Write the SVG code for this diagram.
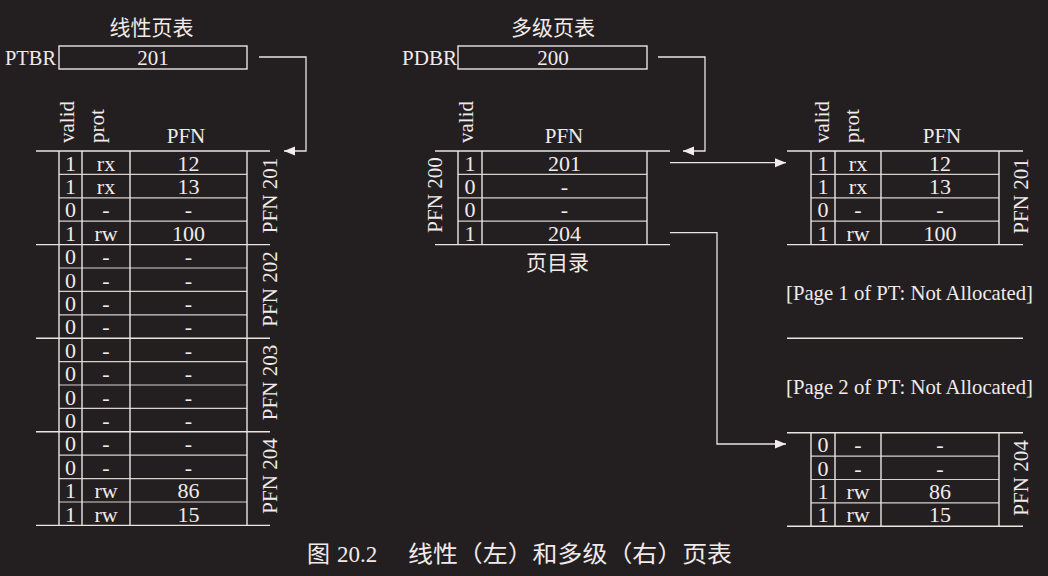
<svg xmlns="http://www.w3.org/2000/svg" width="1048" height="576" viewBox="0 0 1048 576">
  <style>
    .ln { stroke: #ece3e3; stroke-width: 1.4; fill: none; }
    .in { stroke: #d9d0d0; stroke-width: 1.2; fill: none; }
    .t { font-family: "Liberation Serif", "Times New Roman", serif; font-size: 21px; fill: #f2eaea; }
    .cell { font-family: "Liberation Serif", "Times New Roman", serif; font-size: 22px; fill: #f2eaea; text-anchor: middle; }
    .c { text-anchor: middle; }
    .cjk { font-family: "Noto Sans CJK SC", "Noto Sans", sans-serif; font-size: 21px; fill: #f2eaea; }
    .cn { stroke: #ece3e3; stroke-width: 1.3; fill: none; marker-end: url(#ah); }
  </style>
  <defs>
    <marker id="ah" markerUnits="userSpaceOnUse" markerWidth="12" markerHeight="10" refX="11" refY="4.5" orient="auto">
      <path d="M0,0 L11,4.5 L0,9 Z" fill="#f4ecec"/>
    </marker>
  </defs>
  <rect x="0" y="0" width="1048" height="576" fill="#231f20"/>

  <!-- Linear page table -->
  <g id="linear-title">
    <text class="cjk c" x="151.5" y="34.5">线性页表</text>
  </g>
  <g id="ptbr">
    <text class="t" x="5" y="65" textLength="51" lengthAdjust="spacingAndGlyphs">PTBR</text>
    <rect class="ln" x="59" y="46" width="188" height="23"/>
    <text class="t c" x="153" y="65">201</text>
  </g>
  <g id="linear-table">
    <text class="t" transform="translate(74,143) rotate(-90)">valid</text>
    <text class="t" transform="translate(104,143) rotate(-90)">prot</text>
    <text class="t c" x="186" y="143">PFN</text>
    <path class="ln" d="M36,151H270 M36,244.6H270 M36,338.2H270 M36,431.8H270 M36,525.4H270"/>
    <path class="in" d="M59,174.4H247 M59,197.8H247 M59,221.2H247 M59,268H247 M59,291.4H247 M59,314.8H247 M59,361.6H247 M59,385H247 M59,408.4H247 M59,455.2H247 M59,478.6H247 M59,502H247"/>
    <path class="ln" d="M59,151V525.4 M82,151V525.4 M130,151V525.4 M247,151V525.4"/>
    <g class="cell">
      <text x="70.5" y="170.5">1</text><text x="106" y="170.5">rx</text><text x="188.5" y="170.5">12</text>
      <text x="70.5" y="193.9">1</text><text x="106" y="193.9">rx</text><text x="188.5" y="193.9">13</text>
      <text x="70.5" y="217.3">0</text><text x="106" y="217.3">-</text><text x="188.5" y="217.3">-</text>
      <text x="70.5" y="240.7">1</text><text x="106" y="240.7">rw</text><text x="188.5" y="240.7">100</text>
      <text x="70.5" y="264.1">0</text><text x="106" y="264.1">-</text><text x="188.5" y="264.1">-</text>
      <text x="70.5" y="287.5">0</text><text x="106" y="287.5">-</text><text x="188.5" y="287.5">-</text>
      <text x="70.5" y="310.9">0</text><text x="106" y="310.9">-</text><text x="188.5" y="310.9">-</text>
      <text x="70.5" y="334.3">0</text><text x="106" y="334.3">-</text><text x="188.5" y="334.3">-</text>
      <text x="70.5" y="357.7">0</text><text x="106" y="357.7">-</text><text x="188.5" y="357.7">-</text>
      <text x="70.5" y="381.1">0</text><text x="106" y="381.1">-</text><text x="188.5" y="381.1">-</text>
      <text x="70.5" y="404.5">0</text><text x="106" y="404.5">-</text><text x="188.5" y="404.5">-</text>
      <text x="70.5" y="427.9">0</text><text x="106" y="427.9">-</text><text x="188.5" y="427.9">-</text>
      <text x="70.5" y="451.3">0</text><text x="106" y="451.3">-</text><text x="188.5" y="451.3">-</text>
      <text x="70.5" y="474.7">0</text><text x="106" y="474.7">-</text><text x="188.5" y="474.7">-</text>
      <text x="70.5" y="498.1">1</text><text x="106" y="498.1">rw</text><text x="188.5" y="498.1">86</text>
      <text x="70.5" y="521.5">1</text><text x="106" y="521.5">rw</text><text x="188.5" y="521.5">15</text>
    </g>
    <text class="t c" transform="translate(277,195.5) rotate(-90)">PFN 201</text>
    <text class="t c" transform="translate(277,289) rotate(-90)">PFN 202</text>
    <text class="t c" transform="translate(277,382.5) rotate(-90)">PFN 203</text>
    <text class="t c" transform="translate(277,476) rotate(-90)">PFN 204</text>
  </g>

  <!-- Multi-level page table -->
  <g id="multi-title">
    <text class="cjk c" x="553" y="34.5">多级页表</text>
  </g>
  <g id="pdbr">
    <text class="t" x="402" y="65" textLength="55" lengthAdjust="spacingAndGlyphs">PDBR</text>
    <rect class="ln" x="458" y="46" width="189" height="23"/>
    <text class="t c" x="553" y="65">200</text>
  </g>
  <g id="page-directory">
    <text class="t" transform="translate(473,143) rotate(-90)">valid</text>
    <text class="t c" x="564" y="143">PFN</text>
    <path class="ln" d="M435,151H670 M435,244.6H670"/>
    <path class="in" d="M458,174.4H647 M458,197.8H647 M458,221.2H647"/>
    <path class="ln" d="M458,151V244.6 M482,151V244.6 M647,151V244.6"/>
    <g class="cell">
      <text x="470" y="170.5">1</text><text x="564.5" y="170.5">201</text>
      <text x="470" y="193.9">0</text><text x="564.5" y="193.9">-</text>
      <text x="470" y="217.3">0</text><text x="564.5" y="217.3">-</text>
      <text x="470" y="240.7">1</text><text x="564.5" y="240.7">204</text>
    </g>
    <text class="t c" transform="translate(441.5,195) rotate(-90)">PFN 200</text>
    <text class="cjk c" x="557.5" y="270">页目录</text>
  </g>

  <!-- PFN 201 page of PT -->
  <g id="pt-page-201">
    <text class="t" transform="translate(829,143) rotate(-90)">valid</text>
    <text class="t" transform="translate(859,143) rotate(-90)">prot</text>
    <text class="t c" x="942" y="143">PFN</text>
    <path class="ln" d="M787,151H1023 M787,244.6H1023"/>
    <path class="in" d="M811,174.4H999 M811,197.8H999 M811,221.2H999"/>
    <path class="ln" d="M811,151V244.6 M835,151V244.6 M881,151V244.6 M999,151V244.6"/>
    <g class="cell">
      <text x="823" y="170.5">1</text><text x="858" y="170.5">rx</text><text x="940" y="170.5">12</text>
      <text x="823" y="193.9">1</text><text x="858" y="193.9">rx</text><text x="940" y="193.9">13</text>
      <text x="823" y="217.3">0</text><text x="858" y="217.3">-</text><text x="940" y="217.3">-</text>
      <text x="823" y="240.7">1</text><text x="858" y="240.7">rw</text><text x="940" y="240.7">100</text>
    </g>
    <text class="t c" transform="translate(1028,196) rotate(-90)">PFN 201</text>
  </g>

  <g id="not-allocated-1">
    <text class="t" x="786" y="300" textLength="247" lengthAdjust="spacingAndGlyphs">[Page 1 of PT: Not Allocated]</text>
    <path class="ln" d="M787,338.3H1023"/>
  </g>
  <g id="not-allocated-2">
    <text class="t" x="786" y="394" textLength="247" lengthAdjust="spacingAndGlyphs">[Page 2 of PT: Not Allocated]</text>
  </g>

  <!-- PFN 204 page of PT -->
  <g id="pt-page-204">
    <path class="ln" d="M787,432.7H1023 M787,526.3H1023"/>
    <path class="in" d="M811,456.1H999 M811,479.5H999 M811,502.9H999"/>
    <path class="ln" d="M811,432.7V526.3 M835,432.7V526.3 M881,432.7V526.3 M999,432.7V526.3"/>
    <g class="cell">
      <text x="823" y="452.2">0</text><text x="858" y="452.2">-</text><text x="940" y="452.2">-</text>
      <text x="823" y="475.6">0</text><text x="858" y="475.6">-</text><text x="940" y="475.6">-</text>
      <text x="823" y="499">1</text><text x="858" y="499">rw</text><text x="940" y="499">86</text>
      <text x="823" y="522.4">1</text><text x="858" y="522.4">rw</text><text x="940" y="522.4">15</text>
    </g>
    <text class="t c" transform="translate(1028,478) rotate(-90)">PFN 204</text>
  </g>

  <!-- Connectors -->
  <g id="connectors">
    <polyline class="cn" points="259,57 306,57 306,151 284,151"/>
    <polyline class="cn" points="658,57 705,57 705,151 683,151"/>
    <polyline class="cn" points="670,162.7 786,162.7"/>
    <polyline class="cn" points="670,232.7 717,232.7 717,444 786,444"/>
  </g>

  <!-- Caption -->
  <g id="caption">
    <text class="cjk" x="307" y="561.5" style="font-size:23px">图</text>
    <text class="t" x="337" y="561.5" style="font-size:23px">20.2</text>
    <text class="cjk" x="408" y="561.5" style="font-size:23px" textLength="324" lengthAdjust="spacingAndGlyphs">线性（左）和多级（右）页表</text>
  </g>
</svg>
